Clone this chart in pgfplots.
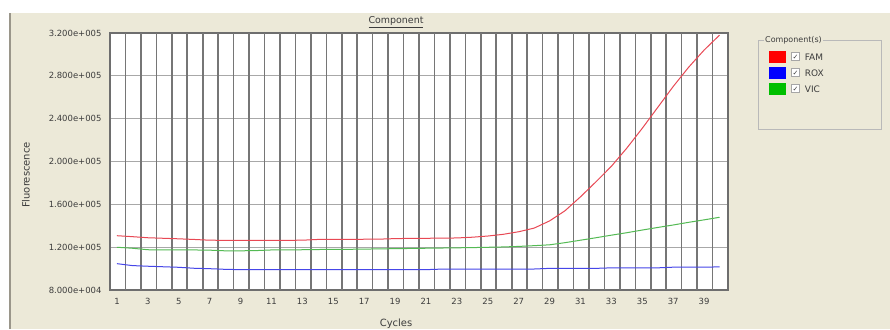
\documentclass[border=0pt]{standalone}
\usepackage{pgfplots}
\pgfplotsset{compat=1.18}
\usepackage{fontspec}
\setmainfont{DejaVu Sans}
\definecolor{bgbeige}{HTML}{ECE9D8}
\definecolor{edge}{HTML}{9A968A}
\definecolor{txt}{HTML}{3C3C3C}
\definecolor{vgrid}{HTML}{5E5E5E}
\definecolor{hgrid}{HTML}{A8A8A8}
\definecolor{famc}{RGB}{232,72,84}
\definecolor{roxc}{RGB}{70,70,232}
\definecolor{vicc}{RGB}{84,186,84}
\newcommand{\chk}{{\setlength{\fboxsep}{0pt}\setlength{\fboxrule}{0.6bp}\fcolorbox{gray!70}{white}{\rule{0pt}{7.5bp}\makebox[7.5bp]{\fontsize{7}{7}\selectfont\raisebox{0.5bp}{✓}}}}}
\begin{document}
\begin{tikzpicture}[x=1bp,y=1bp]
\useasboundingbox (0,0) rectangle (890,329);
\fill[bgbeige] (0,0) rectangle (890,316);
\fill[white] (0,316) rectangle (890,329);
\fill[white] (0,0) rectangle (9,316);
\fill[edge] (9,0) rectangle (11,316);
\begin{axis}[
  at={(110bp,39bp)}, anchor=south west,
  scale only axis, width=618bp, height=257bp,
  xmin=0.55, xmax=40.55, ymin=80000, ymax=320000,
  axis background/.style={fill=white},
  axis line style={draw=vgrid!90, line width=1.2bp},
  xtick={1,3,...,39},
  ytick={80000,120000,160000,200000,240000,280000,320000},
  yticklabels={8.000e+004,1.200e+005,1.600e+005,2.000e+005,2.400e+005,2.800e+005,3.200e+005},
  major tick length=0pt,
  ymajorgrids,
  major grid style={draw=hgrid, line width=0.8bp},
  extra x ticks={1.55,2.55,...,39.55},
  extra x tick labels={},
  extra x tick style={grid=major, major grid style={draw=vgrid!85, line width=1.6bp}},
  tick label style={font=\fontsize{8.5}{10}\selectfont, text=txt},
  /pgf/number format/assume math mode=true,
  yticklabel style={xshift=-5bp},
  xticklabel style={yshift=-5bp},
  scaled y ticks=false,
  legend style={at={(1,1)}, anchor=north west, xshift=41bp, yshift=-17bp,
    draw=none, fill=none, font=\fontsize{9}{10}\selectfont, text=txt,
    row sep=2.5bp, inner sep=0pt},
  legend cell align=left,
]
\addplot[famc, line width=1bp, legend image code/.code={\fill[red] (0bp,-5.5bp) rectangle (16bp,5.5bp);}] coordinates {
(1,130700)(2,129800)(3,128800)(4,128300)(5,127800)(6,127200)(7,126500)(8,126400)(9,126400)(10,126400)
(11,126400)(12,126400)(13,126500)(14,127200)(15,127300)(16,127300)(17,127400)(18,127500)(19,128000)(20,128200)
(21,128300)(22,128400)(23,128600)(24,129300)(25,130400)(26,132000)(27,134400)(28,137800)(29,144500)(30,154000)
(31,167000)(32,181000)(33,195500)(34,212500)(35,231000)(36,250500)(37,270000)(38,288000)(39,304000)(40,318000)};
\addlegendentry{\hspace{3bp}\chk\hspace{5bp}FAM}
\addplot[roxc, line width=1bp, legend image code/.code={\fill[blue] (0bp,-5.5bp) rectangle (16bp,5.5bp);}] coordinates {
(1,104600)(2,102800)(3,102200)(4,101700)(5,101200)(6,100300)(7,99900)(8,99300)(9,99000)(10,99000)
(11,99000)(12,99000)(13,99000)(14,99000)(15,99000)(16,99000)(17,99000)(18,99000)(19,99000)(20,99000)
(21,99000)(22,99500)(23,99600)(24,99600)(25,99600)(26,99600)(27,99600)(28,99600)(29,100200)(30,100200)
(31,100200)(32,100200)(33,100700)(34,100700)(35,100700)(36,100700)(37,101300)(38,101300)(39,101300)(40,101600)};
\addlegendentry{\hspace{3bp}\chk\hspace{5bp}ROX}
\addplot[vicc, line width=1bp, legend image code/.code={\fill[green!75!black] (0bp,-5.5bp) rectangle (16bp,5.5bp);}] coordinates {
(1,119900)(2,119000)(3,117600)(4,117400)(5,117400)(6,117400)(7,117200)(8,116600)(9,116600)(10,116800)
(11,117400)(12,117400)(13,117600)(14,117800)(15,118000)(16,118000)(17,118200)(18,118400)(19,118600)(20,118800)
(21,119000)(22,119200)(23,119400)(24,119600)(25,119900)(26,120200)(27,120700)(28,121400)(29,122200)(30,124200)
(31,126500)(32,128800)(33,131200)(34,133500)(35,136000)(36,138400)(37,140700)(38,143200)(39,145500)(40,147900)};
\addlegendentry{\hspace{3bp}\chk\hspace{5bp}VIC}
\end{axis}
\node[text=txt, font=\fontsize{9.5}{11}\selectfont] at (396,307) {\underline{Component}};
\node[text=txt, font=\fontsize{10}{11}\selectfont] at (396,5) {Cycles};
\node[text=txt, font=\fontsize{10}{11}\selectfont, rotate=90] at (26,154) {Fluorescence};
\draw[gray!55, line width=0.7bp] (758,200) rectangle (881,289);
\node[fill=bgbeige, inner sep=1bp, anchor=west, text=txt, font=\fontsize{8}{9}\selectfont] at (764,289) {Component(s)};
\end{tikzpicture}
\end{document}
